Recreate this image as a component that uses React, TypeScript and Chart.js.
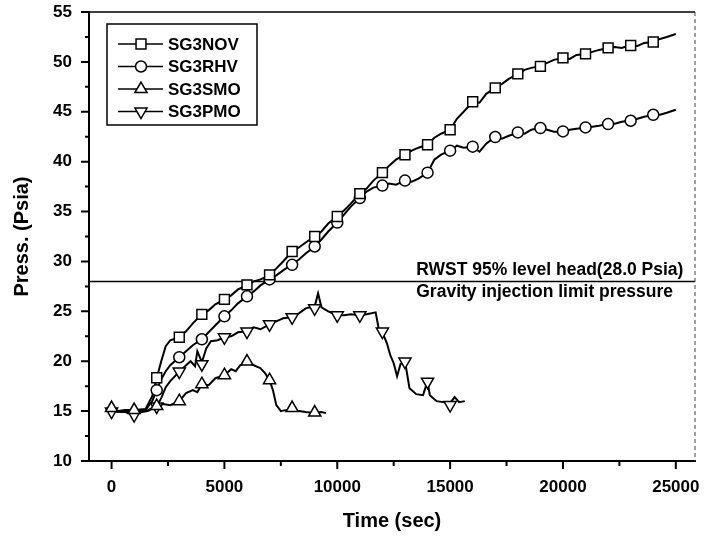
import React, { useEffect, useRef } from 'react';
import { Chart, registerables } from 'chart.js';
Chart.register(...registerables);

// ---------- data ----------
const X_TICKS = [0, 5000, 10000, 15000, 20000, 25000];
const X_MINOR = [2500, 7500, 12500, 17500, 22500];
const Y_TICKS = [10, 15, 20, 25, 30, 35, 40, 45, 50, 55];
const Y_MINOR = [12.5, 17.5, 22.5, 27.5, 32.5, 37.5, 42.5, 47.5, 52.5];

const SERIES_NAMES = ['SG3NOV', 'SG3RHV', 'SG3SMO', 'SG3PMO'];

const T_LONG = [0, 500, 1000, 1500, 1800, 2000, 2200, 2400, 2600, 3000, 3300, 3600, 4000, 4300, 4600, 5000, 5300, 5600, 6000, 6300, 6600, 7000, 7300, 7600, 8000, 8300, 8600, 9000, 9300, 9600, 10000, 10300, 10600, 11000, 11300, 11600, 12000, 12300, 12600, 13000, 13300, 13600, 14000, 14300, 14600, 15000, 15300, 15600, 16000, 16300, 16600, 17000, 17300, 17600, 18000, 18300, 18600, 19000, 19300, 19600, 20000, 20300, 20600, 21000, 21300, 21600, 22000, 22300, 22600, 23000, 23300, 23600, 24000, 24300, 24600, 25000];
const NOV_P = [15.0, 14.9, 15.1, 15.2, 16.5, 18.3, 20.0, 21.5, 22.1, 22.4, 23.0, 23.8, 24.7, 25.1, 25.7, 26.2, 26.6, 27.2, 27.6, 28.0, 28.2, 28.6, 29.3, 30.0, 31.0, 31.4, 31.9, 32.5, 33.0, 33.8, 34.5, 35.1, 35.8, 36.8, 37.3, 38.1, 38.9, 39.6, 40.2, 40.7, 41.1, 41.4, 41.7, 42.4, 42.8, 43.2, 44.3, 45.0, 46.0, 45.9, 46.8, 47.4, 47.8, 48.3, 48.8, 49.2, 49.4, 49.6, 49.9, 50.2, 50.4, 50.3, 50.7, 50.8, 51.0, 51.2, 51.4, 51.5, 51.4, 51.7, 51.6, 51.9, 52.0, 52.3, 52.5, 52.8];
const RHV_P = [15.0, 14.9, 15.0, 15.1, 16.0, 17.1, 18.2, 19.0, 19.6, 20.4, 21.0, 21.6, 22.2, 22.9, 23.6, 24.5, 25.1, 25.8, 26.5, 27.0, 27.6, 28.2, 28.6, 29.1, 29.7, 30.2, 30.8, 31.5, 32.2, 33.0, 33.9, 34.7, 35.5, 36.35, 37.0, 37.4, 37.6, 37.8, 37.7, 38.1, 38.0, 38.3, 38.9, 40.2, 40.7, 41.1, 41.6, 41.4, 41.5, 41.0, 41.8, 42.5, 42.3, 42.6, 42.9, 42.8, 43.2, 43.4, 43.2, 43.0, 43.0, 43.2, 43.3, 43.4, 43.5, 43.6, 43.8, 43.8, 44.0, 44.1, 44.3, 44.5, 44.7, 44.7, 44.9, 45.2];

const SMO_T = [0, 300, 600, 1000, 1300, 1600, 2000, 2300, 2600, 3000, 3300, 3600, 3800, 4000, 4300, 4600, 5000, 5300, 5500, 5700, 6000, 6300, 6600, 6800, 7000, 7150, 7300, 7500, 7700, 8000, 8300, 8600, 9000, 9300, 9500];
const SMO_P = [15.2, 15.0, 15.1, 15.1, 14.9, 15.1, 15.5, 15.7, 15.6, 16.0, 16.8, 17.1, 16.9, 17.7, 17.6, 18.3, 18.6, 19.2, 19.0, 19.6, 19.9, 19.6, 19.3, 18.8, 18.1, 17.1, 15.6, 15.0, 15.1, 15.2, 15.0, 14.9, 14.8, 14.9, 14.8];

const PMO_T = [0, 300, 600, 1000, 1300, 1600, 2000, 2200, 2400, 2600, 3000, 3300, 3500, 3700, 3800, 4000, 4200, 4400, 4700, 5000, 5300, 5600, 6000, 6300, 6600, 7000, 7300, 7600, 8000, 8300, 8600, 9000, 9150, 9300, 9600, 10000, 10300, 10600, 11000, 11300, 11700, 11850, 12000, 12200, 12350, 12500, 12650, 12800, 13000, 13200, 13500, 13800, 14000, 14100, 14400, 14700, 15000, 15200, 15400, 15650];
const PMO_P = [14.95, 15.0, 14.9, 14.6, 14.9, 15.0, 15.45, 16.3, 17.4, 18.0, 18.96, 19.6, 20.0, 19.5, 21.0, 19.9, 21.3, 22.0, 22.1, 22.4, 22.5, 22.9, 23.0, 23.4, 23.2, 23.7, 24.0, 24.3, 24.4, 24.8, 25.3, 25.5, 26.8, 25.4, 25.0, 24.6, 24.6, 24.7, 24.6, 24.7, 24.9, 23.1, 22.9, 21.8, 20.6, 19.8, 18.5, 19.7, 20.0, 17.3, 16.7, 16.6, 18.0, 16.6, 16.0, 15.9, 15.8, 16.4, 15.9, 16.0];

// marker positions
const MARK_T_LONG = [2000, 3000, 4000, 5000, 6000, 7000, 8000, 9000, 10000, 11000, 12000, 13000, 14000, 15000, 16000, 17000, 18000, 19000, 20000, 21000, 22000, 23000, 24000];
const NOV_MP = [18.35, 22.4, 24.7, 26.2, 27.65, 28.65, 31.0, 32.5, 34.5, 36.8, 38.9, 40.7, 41.7, 43.2, 46.0, 47.4, 48.8, 49.55, 50.4, 50.8, 51.4, 51.65, 52.0];
const RHV_MP = [17.1, 20.4, 22.2, 24.5, 26.5, 28.2, 29.66, 31.5, 33.9, 36.35, 37.6, 38.1, 38.9, 41.1, 41.5, 42.47, 42.93, 43.37, 43.03, 43.43, 43.77, 44.1, 44.7];
const SMO_MT = [0, 1000, 2000, 3000, 4000, 5000, 6000, 7000, 8000, 9000];
const SMO_MP = [15.3, 15.1, 15.5, 16.0, 17.7, 18.6, 19.96, 18.1, 15.3, 14.85];
const PMO_MT = [0, 1000, 2000, 3000, 4000, 5000, 6000, 7000, 8000, 9000, 10000, 11000, 12000, 13000, 14000, 15000];
const PMO_MP = [14.95, 14.6, 15.45, 18.96, 19.7, 22.4, 22.97, 23.7, 24.4, 25.3, 24.6, 24.6, 22.97, 19.96, 17.95, 15.6];

const LIMIT_P = 28.0;
const LIMIT_TEXT_TOP = 'RWST 95% level head(28.0 Psia)';
const LIMIT_TEXT_BOTTOM = 'Gravity injection limit pressure';
const X_TITLE = 'Time (sec)';
const Y_TITLE = 'Press. (Psia)';

// ---------- styles ----------
const FONT = '"Liberation Sans", Arial, Helvetica, sans-serif';
const MARKERS = [
  { style: 'rect', radius: 7, rotation: 0 },
  { style: 'circle', radius: 5.5, rotation: 0 },
  { style: 'triangle', radius: 7, rotation: 0 },
  { style: 'triangle', radius: 7, rotation: 180 },
];

const zip = (t: number[], p: number[]) => t.map((x, i) => ({ x, y: p[i] }));

function drawMarker(ctx: CanvasRenderingContext2D, kind: number, x: number, y: number) {
  const m = MARKERS[kind];
  ctx.save();
  ctx.beginPath();
  if (m.style === 'rect') {
    const s = Math.SQRT1_2 * m.radius;
    ctx.rect(x - s, y - s, 2 * s, 2 * s);
  } else if (m.style === 'circle') {
    ctx.arc(x, y, m.radius, 0, Math.PI * 2);
  } else {
    const rot = (m.rotation * Math.PI) / 180;
    for (let k = 0; k < 3; k++) {
      const a = rot + (k * 2 * Math.PI) / 3;
      const px = x + Math.sin(a) * m.radius;
      const py = y - Math.cos(a) * m.radius;
      if (k === 0) ctx.moveTo(px, py);
      else ctx.lineTo(px, py);
    }
    ctx.closePath();
  }
  ctx.fillStyle = '#fff';
  ctx.fill();
  ctx.lineWidth = 1.5;
  ctx.strokeStyle = '#000';
  ctx.stroke();
  ctx.restore();
}

const overlayPlugin = {
  id: 'overlay',
  beforeDatasetsDraw(chart: any) {
    const { ctx, chartArea, scales } = chart;
    const y = scales.y.getPixelForValue(LIMIT_P);
    ctx.save();
    ctx.strokeStyle = '#000';
    ctx.lineWidth = 1.5;
    ctx.beginPath();
    ctx.moveTo(chartArea.left, y);
    ctx.lineTo(chartArea.right, y);
    ctx.stroke();
    ctx.fillStyle = '#000';
    ctx.font = `bold 17.5px ${FONT}`;
    ctx.textAlign = 'left';
    ctx.textBaseline = 'middle';
    const tx = scales.x.getPixelForValue(13500);
    ctx.fillText(LIMIT_TEXT_TOP, tx, y - 11);
    ctx.fillText(LIMIT_TEXT_BOTTOM, tx, y + 11);
    ctx.restore();
  },
  afterDraw(chart: any) {
    const { ctx, chartArea, scales } = chart;
    const { left, right, top, bottom } = chartArea;
    ctx.save();
    ctx.strokeStyle = '#000';
    // top frame
    ctx.lineWidth = 1.5;
    ctx.beginPath();
    ctx.moveTo(left, top);
    ctx.lineTo(right, top);
    ctx.stroke();
    // right frame (light, broken)
    ctx.lineWidth = 1;
    ctx.strokeStyle = '#444';
    ctx.setLineDash([4, 3]);
    ctx.beginPath();
    ctx.moveTo(right, top);
    ctx.lineTo(right, bottom);
    ctx.stroke();
    ctx.setLineDash([]);
    ctx.strokeStyle = '#000';
    ctx.lineWidth = 2;
    // x / y ticks
    ctx.beginPath();
    X_TICKS.forEach((v) => {
      const px = scales.x.getPixelForValue(v);
      ctx.moveTo(px, bottom);
      ctx.lineTo(px, bottom + 8);
    });
    X_MINOR.forEach((v) => {
      const px = scales.x.getPixelForValue(v);
      ctx.moveTo(px, bottom);
      ctx.lineTo(px, bottom + 5);
    });
    Y_TICKS.forEach((v) => {
      const py = scales.y.getPixelForValue(v);
      ctx.moveTo(left, py);
      ctx.lineTo(left - 8, py);
    });
    Y_MINOR.forEach((v) => {
      const py = scales.y.getPixelForValue(v);
      ctx.moveTo(left, py);
      ctx.lineTo(left - 4, py);
    });
    ctx.stroke();

    // legend
    const bx = left + 18, by = top + 12, bw = 150, bh = 101;
    ctx.fillStyle = '#fff';
    ctx.fillRect(bx, by, bw, bh);
    ctx.lineWidth = 1.5;
    ctx.strokeRect(bx, by, bw, bh);
    ctx.font = `bold 17px ${FONT}`;
    ctx.textAlign = 'left';
    ctx.textBaseline = 'middle';
    SERIES_NAMES.forEach((name, i) => {
      const ry = by + 20 + i * 22.5;
      ctx.beginPath();
      ctx.lineWidth = 1.5;
      ctx.moveTo(bx + 11, ry);
      ctx.lineTo(bx + 56, ry);
      ctx.stroke();
      drawMarker(ctx, i, bx + 34, ry);
      ctx.fillStyle = '#000';
      ctx.fillText(name, bx + 61, ry + 1);
    });
    ctx.restore();
  },
};

export default function App() {
  const ref = useRef<HTMLCanvasElement | null>(null);
  useEffect(() => {
    document.body.style.margin = '0';
    const canvas = ref.current;
    if (!canvas) return;
    const lineDs = (data: any[]) => ({
      data,
      borderColor: '#000',
      borderWidth: 2,
      pointRadius: 0,
      showLine: true,
      fill: false,
      order: 2,
    });
    const markDs = (data: any[], k: number) => ({
      data,
      showLine: false,
      pointStyle: MARKERS[k].style,
      pointRadius: MARKERS[k].radius,
      rotation: MARKERS[k].rotation,
      pointBackgroundColor: '#fff',
      pointBorderColor: '#000',
      pointBorderWidth: 1.5,
      order: 1,
    });
    const chart = new Chart(canvas, {
      type: 'scatter',
      data: {
        datasets: [
          { label: SERIES_NAMES[0], ...lineDs(zip(T_LONG, NOV_P)) },
          { label: SERIES_NAMES[1], ...lineDs(zip(T_LONG, RHV_P)) },
          { label: SERIES_NAMES[2], ...lineDs(zip(SMO_T, SMO_P)) },
          { label: SERIES_NAMES[3], ...lineDs(zip(PMO_T, PMO_P)) },
          { label: SERIES_NAMES[0] + ' m', ...markDs(zip(MARK_T_LONG, NOV_MP), 0) },
          { label: SERIES_NAMES[1] + ' m', ...markDs(zip(MARK_T_LONG, RHV_MP), 1) },
          { label: SERIES_NAMES[2] + ' m', ...markDs(zip(SMO_MT, SMO_MP), 2) },
          { label: SERIES_NAMES[3] + ' m', ...markDs(zip(PMO_MT, PMO_MP), 3) },
        ] as any,
      },
      options: {
        animation: false,
        responsive: false,
        layout: { padding: { top: 12, right: 9, left: 0, bottom: 0 } },
        plugins: { legend: { display: false }, tooltip: { enabled: false } },
        scales: {
          x: {
            type: 'linear',
            min: -1000,
            max: 25850,
            afterBuildTicks: (s: any) => { s.ticks = X_TICKS.map((v) => ({ value: v })); },
            afterFit: (s: any) => {
              s.height = 79;
              s.paddingLeft = 0; s.paddingRight = 0; s.paddingTop = 0; s.paddingBottom = 0;
            },
            grid: { display: false, drawTicks: false },
            border: { display: true, color: '#000', width: 2 },
            ticks: {
              color: '#000',
              font: { family: FONT, size: 17, weight: 'bold' },
              padding: 16,
              maxRotation: 0,
              callback: (v: any) => String(v),
            },
            title: {
              display: true,
              text: X_TITLE,
              color: '#000',
              font: { family: FONT, size: 20, weight: 'bold' },
              padding: { top: 0, bottom: 7 },
            },
          },
          y: {
            type: 'linear',
            min: 10,
            max: 55,
            afterBuildTicks: (s: any) => { s.ticks = Y_TICKS.map((v) => ({ value: v })); },
            afterFit: (s: any) => {
              s.width = 89;
              s.paddingLeft = 0; s.paddingRight = 0; s.paddingTop = 0; s.paddingBottom = 0;
            },
            grid: { display: false, drawTicks: false },
            border: { display: true, color: '#000', width: 2 },
            ticks: {
              color: '#000',
              font: { family: FONT, size: 17, weight: 'bold' },
              padding: 17,
              callback: (v: any) => String(v),
            },
            title: {
              display: true,
              text: Y_TITLE,
              color: '#000',
              font: { family: FONT, size: 20, weight: 'bold' },
              padding: { top: 10, bottom: 0 },
            },
          },
        },
      },
      plugins: [overlayPlugin],
    });
    return () => chart.destroy();
  }, []);
  return (
    <div style={{ width: 704, height: 540, background: '#fff' }}>
      <canvas ref={ref} width={704} height={540} style={{ display: 'block' }} />
    </div>
  );
}
